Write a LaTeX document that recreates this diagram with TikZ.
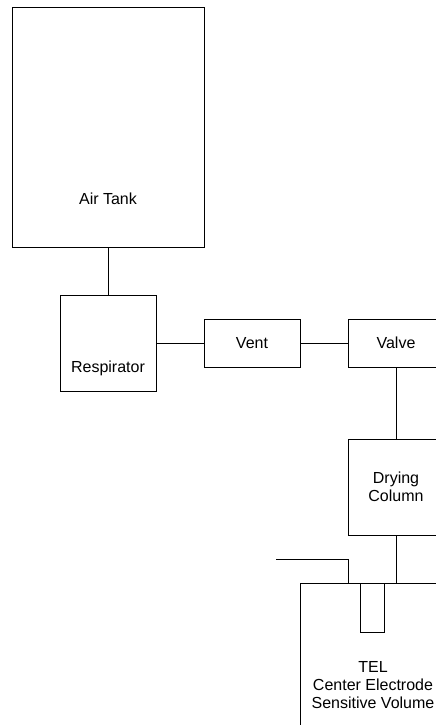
\documentclass[tikz,border=0pt]{standalone}
\usepackage{fontspec}
\setmainfont{Liberation Sans}
\begin{document}
\begin{tikzpicture}[x=1pt,y=-1pt,
  box/.style={draw, line width=0.8pt, inner sep=0pt},
  lbl/.style={font=\fontsize{16}{18}\selectfont, align=center, inner sep=0pt},
  wire/.style={line width=0.8pt}]
\useasboundingbox (0,0) rectangle (436,725);
\clip (0,0) rectangle (436,725);
% boxes
\node[box, minimum width=192pt, minimum height=240pt] (tank) at (108,127) {};
\node[lbl, anchor=base] (tanklbl) at (108,204) {Air Tank};
\node[box, minimum width=96pt, minimum height=96pt] (resp) at (108,343) {};
\node[lbl, anchor=base] (resplbl) at (108,372) {Respirator};
\node[box, minimum width=96pt, minimum height=48pt] (vent) at (252,343) {};
\node[lbl, anchor=base] (ventlbl) at (252,348) {Vent};
\node[box, minimum width=96pt, minimum height=48pt] (valve) at (396,343) {};
\node[lbl, anchor=base] (valvelbl) at (396,348) {Valve};
\node[box, minimum width=96pt, minimum height=96pt] (dry) at (396,487) {};
\node[lbl, anchor=base] (drylbl) at (396,501) {Drying\\Column};
\node[box, minimum width=146pt, minimum height=210pt, anchor=north west] (tel) at (300,583) {};
\node[lbl, anchor=base] (tellbl) at (373,708) {TEL\\Center Electrode\\Sensitive Volume};
\node[box, minimum width=24pt, minimum height=49pt, anchor=north] (elec) at (372,583) {};
% connectors
\draw[wire] (tank.south) -- (resp.north);
\draw[wire] (resp.east) -- (vent.west);
\draw[wire] (vent.east) -- (valve.west);
\draw[wire] (valve.south) -- (dry.north);
\draw[wire] (dry.south) -- (dry.south |- tel.north);
\coordinate (inlet) at (276,559);
\coordinate (inbend) at (348,559);
\draw[wire] (inlet) -- (inbend) -- (inbend |- tel.north);
\end{tikzpicture}
\end{document}
